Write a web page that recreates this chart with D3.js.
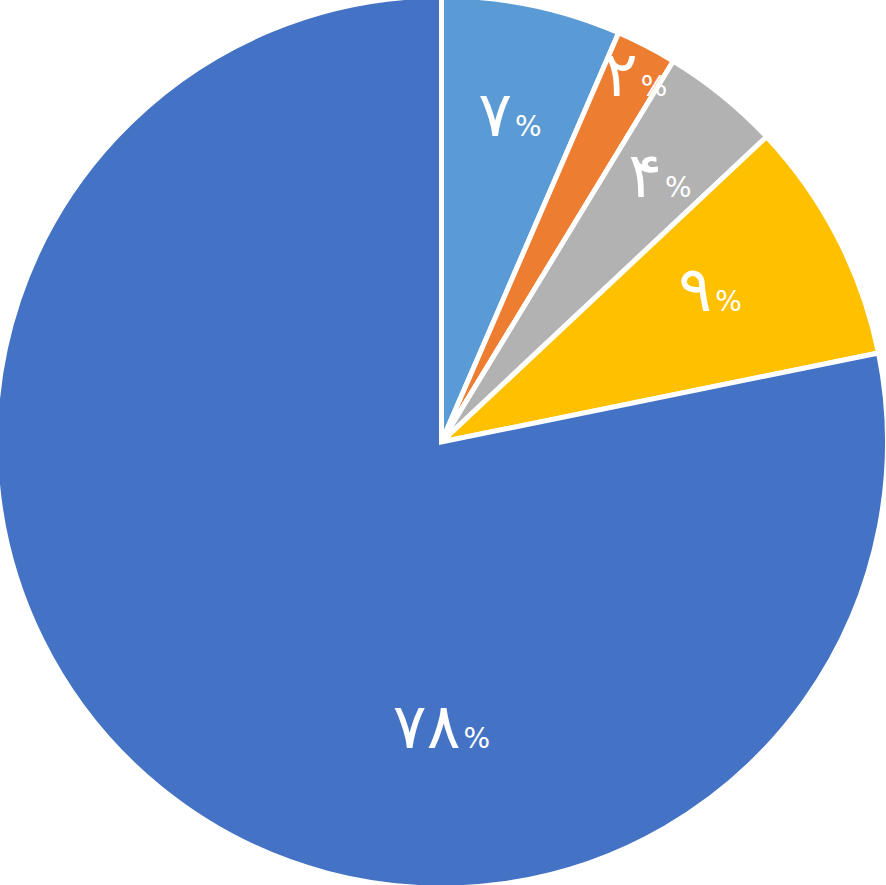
<!DOCTYPE html>
<html><head><meta charset="utf-8">
<script src="https://cdn.jsdelivr.net/npm/d3@7"></script>
<style>html,body{margin:0;padding:0;background:#fff;overflow:hidden}</style>
</head><body>
<svg id="c" width="886" height="885"></svg>
<script>
const categories = ["A", "B", "C", "D", "E"];
const values = [6.5, 2.2, 4.3, 8.8, 78.2];
const labels = ["۷", "۲", "۴", "۹", "۷۸"];
const colors = ["#5B9BD5", "#ED7D31", "#B2B2B2", "#FFC000", "#4472C4"];
// label placement: [angle in degrees from 12 o'clock, radius fraction]
const labelPolar = [[12.6, 0.703], [29.3, 0.89], [41.7, 0.736], [64.0, 0.670], [180, 0.686]];

const svg = d3.select("#c");
const cx = 441.5, cy = 442, R = 446;
const g = svg.append("g").attr("transform", `translate(${cx},${cy})`);
const pie = d3.pie().sort(null).value(d => d)(values);
const arc = d3.arc().innerRadius(0).outerRadius(R);
g.selectAll("path").data(pie).join("path")
  .attr("d", arc)
  .attr("fill", (d, i) => colors[i])
  .attr("stroke", "#fff").attr("stroke-width", 5).attr("stroke-linejoin", "miter");

const lab = g.selectAll("text").data(pie).join("text")
  .attr("x", (d, i) => Math.sin(labelPolar[i][0] * Math.PI / 180) * R * labelPolar[i][1])
  .attr("y", (d, i) => -Math.cos(labelPolar[i][0] * Math.PI / 180) * R * labelPolar[i][1])
  .attr("text-anchor", "middle")
  .attr("fill", "#fff")
  .style("font-family", "'DejaVu Sans', sans-serif");
lab.append("tspan").text((d, i) => labels[i]).style("font-size", "63px");
lab.append("tspan").text("%").style("font-size", "28px").attr("dx", 3);
</script>
</body></html>
